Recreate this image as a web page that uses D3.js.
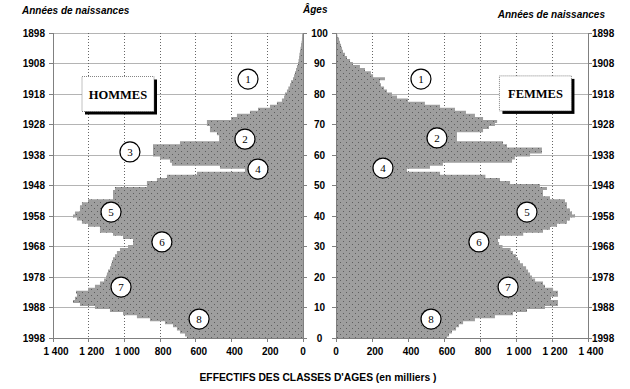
<!DOCTYPE html>
<html><head><meta charset="utf-8">
<script src="https://cdn.jsdelivr.net/npm/d3@7"></script>
<style>
html,body{margin:0;padding:0;background:#fff;}
svg{display:block;}
text{font-family:"Liberation Sans",Arial,sans-serif;}
</style></head>
<body>
<svg id="chart" width="630" height="389"></svg>
<script>
// ---- data (thousands), index = age 0..100
const ages = d3.range(0, 101);
const hommes = [650,661,689,706,728,773,857,930,1008,1081,
 1165,1249,1288,1277,1266,1271,1204,1165,1137,1114,
 1103,1098,1092,1081,1075,1070,1064,1053,1042,1025,
 980,952,952,1008,1064,1137,1137,1204,1238,1266,
 1288,1277,1249,1249,1238,1204,1064,1064,1064,1053,
 874,874,818,762,594,325,465,734,745,801,
 840,840,840,840,689,470,470,482,521,521,
 538,538,403,370,297,252,185,146,118,106,
 101,90,82,73,67,56,50,45,39,34,
 28,25,22,20,17,14,11,8,6,5,4];
const femmes = [617,628,644,667,683,706,772,883,983,1061,
 1161,1233,1233,1194,1233,1233,1206,1161,1150,1106,
 1089,1078,1067,1056,1039,1022,1011,1000,983,970,
 925,906,900,911,1040,1150,1189,1228,1283,1300,
 1328,1311,1300,1283,1283,1272,1189,1150,1150,1172,
 1133,967,911,830,578,394,522,594,978,994,
 1078,1144,1144,950,928,672,672,672,817,850,
 883,895,817,772,722,661,578,494,400,339,
 311,283,267,250,244,272,206,194,161,133,
 94,78,61,50,39,33,28,22,17,8,3];
const xTicks = [0,200,400,600,800,1000,1200,1400];
const ageTicks = [0,10,20,30,40,50,60,70,80,90,100];
const refYear = 1998;
const annotations = [
 {side:"H", v:308, age:84.9, label:"1"},
 {side:"H", v:325, age:65.2, label:"2"},
 {side:"H", v:969, age:61.0, label:"3"},
 {side:"H", v:252, age:55.4, label:"4"},
 {side:"H", v:1075, age:41.3, label:"5"},
 {side:"H", v:790, age:31.5, label:"6"},
 {side:"H", v:1019, age:16.7, label:"7"},
 {side:"H", v:582, age:6.2, label:"8"},
 {side:"F", v:472, age:84.9, label:"1"},
 {side:"F", v:561, age:65.6, label:"2"},
 {side:"F", v:261, age:55.7, label:"4"},
 {side:"F", v:1061, age:41.3, label:"5"},
 {side:"F", v:794, age:31.5, label:"6"},
 {side:"F", v:956, age:16.7, label:"7"},
 {side:"F", v:528, age:6.2, label:"8"}
];
const boxes = [
 {side:"H", v:1036, age:80.0, label:"HOMMES"},
 {side:"F", v:1108, age:80.2, label:"FEMMES"}
];

const svg = d3.select("#chart");
const fmt = d3.formatLocale({thousands:"\u00a0", grouping:[3], decimal:",", currency:["",""]}).format(",");

const y = d3.scaleLinear().domain([0,100]).range([338,33]);
const xH = d3.scaleLinear().domain([0,1400]).range([303,53]);
const xF = d3.scaleLinear().domain([0,1400]).range([336,588]);
const sc = {H:xH, F:xF};

const defs = svg.append("defs");
const pat = defs.append("pattern").attr("id","dots").attr("width",6).attr("height",6).attr("patternUnits","userSpaceOnUse");
pat.append("rect").attr("width",6).attr("height",6).attr("fill","#9e9e9e");
pat.append("rect").attr("x",1).attr("y",1).attr("width",1).attr("height",1).attr("fill","#5e5e5e");
pat.append("rect").attr("x",4).attr("y",4).attr("width",1).attr("height",1).attr("fill","#5e5e5e");

// grid
[xH,xF].forEach(x=>{
  const g = svg.append("g");
  g.selectAll("line.h").data(ageTicks).join("line")
   .attr("x1",x(0)).attr("x2",x(1400)).attr("y1",d=>y(d)).attr("y2",d=>y(d))
   .attr("stroke","#b4b4b4").attr("stroke-width",1).attr("shape-rendering","crispEdges");
  g.selectAll("line.v").data(xTicks.slice(1,-1)).join("line")
   .attr("x1",d=>x(d)).attr("x2",d=>x(d)).attr("y1",y(100)).attr("y2",y(0))
   .attr("stroke","#666").attr("stroke-width",1).attr("stroke-dasharray","1,2").attr("shape-rendering","crispEdges");
});

// bars as stepped areas
function stepData(vals){
  const pts=[];
  ages.forEach((a,i)=>{
    pts.push({yy:Math.min(y(0), y(a-0.5)), v:vals[i]});
    pts.push({yy:Math.max(y(100), y(a+0.5)), v:vals[i]});
  });
  return pts;
}
[["H",hommes],["F",femmes]].forEach(([s,vals])=>{
  const x = sc[s];
  const area = d3.area().y(d=>d.yy).x0(x(0)).x1(d=>x(d.v));
  svg.append("path").datum(stepData(vals)).attr("d",area).attr("fill","url(#dots)").attr("stroke","none");
});

// axes
const axCol = "#808080";
function vAxis(xpos, dir){
  const g = svg.append("g");
  g.append("line").attr("x1",xpos).attr("x2",xpos).attr("y1",y(100)).attr("y2",y(0)).attr("stroke",axCol).attr("shape-rendering","crispEdges");
  g.selectAll("line.t").data(ageTicks).join("line").attr("x1",xpos).attr("x2",xpos+dir*4)
   .attr("y1",d=>y(d)).attr("y2",d=>y(d)).attr("stroke",axCol).attr("shape-rendering","crispEdges");
}
vAxis(xH(1400),-1); vAxis(xH(0),1); vAxis(xF(0),-1); vAxis(xF(1400),1);
[xH,xF].forEach(x=>{
  const g = svg.append("g");
  g.append("line").attr("x1",x(0)).attr("x2",x(1400)).attr("y1",y(0)).attr("y2",y(0)).attr("stroke",axCol).attr("shape-rendering","crispEdges");
  g.selectAll("line.t").data(xTicks).join("line").attr("x1",d=>x(d)).attr("x2",d=>x(d))
   .attr("y1",y(0)).attr("y2",y(0)+4).attr("stroke",axCol).attr("shape-rendering","crispEdges");
  g.selectAll("text").data(xTicks).join("text").attr("x",d=>x(d)+(d?3:0)).attr("y",y(0)+17)
   .attr("text-anchor","middle").attr("font-size",10).attr("font-weight","bold").text(d=>fmt(d));
});

// year labels & age labels
svg.append("g").selectAll("text").data(ageTicks).join("text")
  .attr("x",45).attr("y",d=>y(d)+3.5).attr("text-anchor","end").attr("font-size",10).attr("font-weight","bold")
  .text(d=>refYear-d);
svg.append("g").selectAll("text").data(ageTicks).join("text")
  .attr("x",592).attr("y",d=>y(d)+3.5).attr("text-anchor","start").attr("font-size",10).attr("font-weight","bold")
  .text(d=>refYear-d);
svg.append("g").selectAll("text").data(ageTicks).join("text")
  .attr("x",(xH(0)+xF(0))/2).attr("y",d=>y(d)+3.5).attr("text-anchor","middle").attr("font-size",10).attr("font-weight","bold")
  .text(d=>d);

// headers
svg.append("text").attr("x",22).attr("y",14).attr("font-size",10).attr("font-weight","bold").attr("font-style","italic").text("Années de naissances");
svg.append("text").attr("x",605).attr("y",18).attr("text-anchor","end").attr("font-size",10).attr("font-weight","bold").attr("font-style","italic").text("Années de naissances");
svg.append("text").attr("x",303).attr("y",13).attr("font-size",10).attr("font-weight","bold").attr("font-style","italic").text("Âges");
svg.append("text").attr("x",318).attr("y",381).attr("text-anchor","middle").attr("font-size",10.3).attr("font-weight","bold").text("EFFECTIFS DES CLASSES D'AGES (en milliers )");

// boxes
boxes.forEach(b=>{
  const cx = sc[b.side](b.v), cy = y(b.age), w=72, h=35;
  svg.append("rect").attr("x",cx-w/2+3).attr("y",cy-h/2+3).attr("width",w).attr("height",h).attr("fill","#000");
  svg.append("rect").attr("x",cx-w/2).attr("y",cy-h/2).attr("width",w).attr("height",h).attr("fill","#fff")
    .attr("stroke","#666").attr("stroke-width",0.8).attr("stroke-dasharray","1,1");
  svg.append("text").attr("x",cx).attr("y",cy+4.5).attr("text-anchor","middle")
    .style("font-family","'Liberation Serif','Times New Roman',serif").attr("font-weight","bold").attr("font-size",12.5).text(b.label);
});

// numbered circles
const ag = svg.append("g").selectAll("g").data(annotations).join("g")
  .attr("transform",d=>`translate(${sc[d.side](d.v)},${y(d.age)})`);
ag.append("circle").attr("r",10).attr("fill","#fff").attr("stroke","#000").attr("stroke-width",1.2);
ag.append("text").attr("y",4).attr("text-anchor","middle").style("font-family","'Liberation Serif','Times New Roman',serif")
  .attr("font-size",11).text(d=>d.label);
</script>
</body></html>
